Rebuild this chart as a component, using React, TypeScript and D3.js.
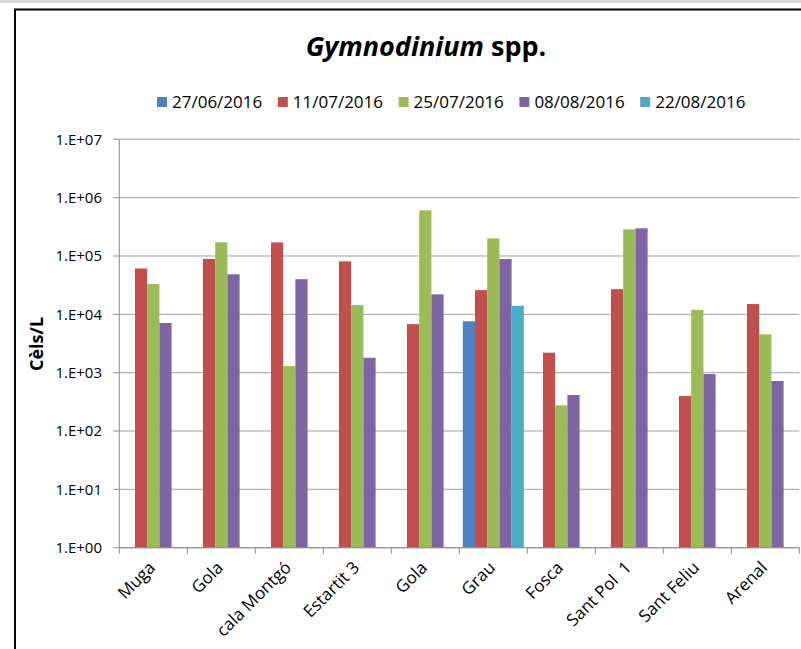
import React from 'react';
import * as d3 from 'd3';

const categories = ['Muga', 'Gola', 'cala Montgó', 'Estartit 3', 'Gola', 'Grau', 'Fosca', 'Sant Pol  1', 'Sant Feliu', 'Arenal'];
const dates = ['27/06/2016', '11/07/2016', '25/07/2016', '08/08/2016', '22/08/2016'];
const colors = ['#4F81BD', '#C0504D', '#9BBB59', '#8064A2', '#4BACC6'];

const s270616 = [null, null, null, null, null, 7600, null, null, null, null];
const s110716 = [61000, 89000, 171000, 81000, 6800, 26000, 2200, 27000, 400, 15000];
const s250716 = [33000, 171000, 1300, 14400, 605000, 200000, 275, 286000, 11900, 4540];
const s080816 = [7100, 48500, 40000, 1800, 22000, 88700, 414, 298000, 950, 720];
const s220816 = [null, null, null, null, null, 14000, null, null, null, null];

const yTickValues = [1, 10, 100, 1000, 10000, 100000, 1000000, 10000000];
const yTickLabels = ['1.E+00', '1.E+01', '1.E+02', '1.E+03', '1.E+04', '1.E+05', '1.E+06', '1.E+07'];

const W = 801;
const H = 649;
const FONT = "'Open Sans', 'Noto Sans', sans-serif";

const App: React.FC = () => {
  const series = [s270616, s110716, s250716, s080816, s220816];

  const margin = { left: 119.3, right: 801 - 799.3, top: 139.3, bottom: 649 - 547.7 };

  const x = d3
    .scaleBand<number>()
    .domain(categories.map((_, i) => i))
    .range([margin.left, W - margin.right])
    .padding(0);

  const xs = d3
    .scaleBand<number>()
    .domain(dates.map((_, i) => i))
    .range([0, x.bandwidth()])
    .paddingInner(0)
    .paddingOuter(0.285);

  const y = d3
    .scaleLog()
    .domain([1, 1e7])
    .range([H - margin.bottom, margin.top]);

  const y0 = y(1);

  const legendStart = 157;
  const legendStep = 120.8;

  return (
    <svg
      width={W}
      height={H}
      style={{ position: 'fixed', left: 0, top: 0, display: 'block', background: '#fff' }}
    >
      {/* top band and frame */}
      <rect x={0} y={0} width={W} height={3} fill="#d6d6d6" />
      <line x1={14} x2={W} y1={9.5} y2={9.5} stroke="#000" strokeWidth={2} />
      <line x1={15} x2={15} y1={9} y2={H} stroke="#000" strokeWidth={2} />

      {/* title */}
      <text
        x={426}
        y={56}
        textAnchor="middle"
        fontFamily={FONT}
        fontWeight="bold"
        fontSize={27}
        fill="#000"
      >
        <tspan fontStyle="italic">Gymnodinium</tspan>
        <tspan> spp.</tspan>
      </text>

      {/* legend */}
      {dates.map((d, i) => (
        <g key={d} transform={`translate(${legendStart + i * legendStep},0)`}>
          <rect x={0} y={97} width={10} height={10} fill={colors[i]} />
          <text x={15} y={107.5} fontFamily={FONT} fontSize={17} fill="#000">
            {d}
          </text>
        </g>
      ))}

      {/* gridlines */}
      {yTickValues.map((v) => (
        <line
          key={'g' + v}
          x1={margin.left}
          x2={W - margin.right}
          y1={y(v)}
          y2={y(v)}
          stroke="#a0a0a0"
          strokeWidth={1}
        />
      ))}

      {/* bars */}
      {series.map((vals, si) =>
        vals.map((v, ci) =>
          v == null ? null : (
            <rect
              key={`b${si}-${ci}`}
              x={(x(ci) ?? 0) + (xs(si) ?? 0)}
              y={y(v)}
              width={xs.bandwidth()}
              height={y0 - y(v)}
              fill={colors[si]}
            />
          )
        )
      )}

      {/* y axis */}
      <line x1={margin.left} x2={margin.left} y1={margin.top} y2={y0} stroke="#8c8c8c" />
      {yTickValues.map((v, i) => (
        <g key={'t' + v}>
          <line x1={margin.left - 6} x2={margin.left} y1={y(v)} y2={y(v)} stroke="#8c8c8c" />
          <text
            x={102}
            y={y(v)}
            dy="0.35em"
            textAnchor="end"
            fontFamily={FONT}
            fontSize={15}
            fill="#000"
          >
            {yTickLabels[i]}
          </text>
        </g>
      ))}

      {/* x axis */}
      <line x1={margin.left} x2={W - margin.right} y1={y0} y2={y0} stroke="#8c8c8c" />
      {categories.map((_, i) => (
        <line
          key={'xt' + i}
          x1={(x(i) ?? 0) + x.bandwidth()}
          x2={(x(i) ?? 0) + x.bandwidth()}
          y1={y0}
          y2={y0 + 6}
          stroke="#8c8c8c"
        />
      ))}
      <line x1={margin.left} x2={margin.left} y1={y0} y2={y0 + 6} stroke="#8c8c8c" />
      {categories.map((c, i) => {
        const cx = (x(i) ?? 0) + x.bandwidth() / 2 + 3;
        const cy = y0 + 21;
        return (
          <text
            key={'xl' + i}
            x={cx}
            y={cy}
            transform={`rotate(-45 ${cx} ${cy})`}
            textAnchor="end"
            fontFamily={FONT}
            fontSize={17}
            fill="#000"
            style={{ whiteSpace: 'pre' }}
          >
            {c}
          </text>
        );
      })}

      {/* y axis title */}
      <text
        transform="translate(43,344) rotate(-90)"
        textAnchor="middle"
        fontFamily={FONT}
        fontWeight="bold"
        fontSize={18}
        fill="#000"
      >
        Cèls/L
      </text>
    </svg>
  );
};

export default App;
